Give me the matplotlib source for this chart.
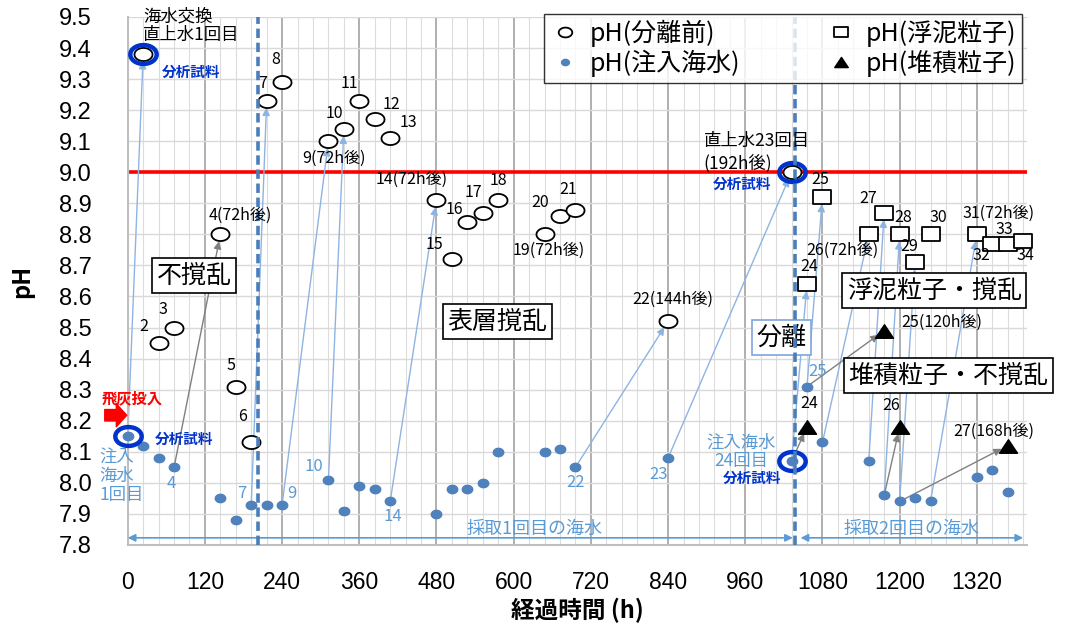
import numpy as np
import matplotlib.pyplot as plt
from matplotlib.path import Path
from matplotlib.transforms import offset_copy

plt.rcParams['font.family'] = ['Noto Sans CJK JP', 'DejaVu Sans']

# 経過時間 (h) と pH
before_t = [24, 48, 72, 144, 168, 192, 216, 240, 312, 336, 360, 384, 408,
            480, 504, 528, 552, 576, 648, 672, 696, 840, 1032]
before_ph = [9.38, 8.45, 8.50, 8.80, 8.31, 8.13, 9.23, 9.29, 9.10, 9.14, 9.23,
             9.17, 9.11, 8.91, 8.72, 8.84, 8.87, 8.91, 8.80, 8.86, 8.88, 8.52, 9.00]

sea_t = [0, 24, 48, 72, 144, 168, 192, 216, 240, 312, 336, 360, 384, 408,
         480, 504, 528, 552, 576, 648, 672, 696, 840, 1032, 1056, 1080, 1152,
         1176, 1200, 1224, 1248, 1320, 1344, 1368]
sea_ph = [8.15, 8.12, 8.08, 8.05, 7.95, 7.88, 7.93, 7.93, 7.93, 8.01, 7.91,
          7.99, 7.98, 7.94, 7.90, 7.98, 7.98, 8.00, 8.10, 8.10, 8.11, 8.05,
          8.08, 8.07, 8.31, 8.13, 8.07, 7.96, 7.94, 7.95, 7.94, 8.02, 8.04, 7.97]

floc_t = [1056, 1080, 1152, 1176, 1200, 1224, 1248, 1320, 1344, 1368, 1392]
floc_ph = [8.64, 8.92, 8.80, 8.87, 8.80, 8.71, 8.80, 8.80, 8.77, 8.77, 8.78]

sed_t = [1056, 1176, 1200, 1368]
sed_ph = [8.18, 8.49, 8.18, 8.12]

divider_t = [203, 1038]
limit_ph = 9.0

before_text = ['', '2', '3', '4(72h後)', '5', '6', '7', '8', '9(72h後)', '10',
               '11', '12', '13', '14(72h後)', '15', '16', '17', '18',
               '19(72h後)', '20', '21', '22(144h後)', '']
floc_text = ['24', '25', '26(72h後)', '27', '28', '29', '30', '31(72h後)',
             '32', '33', '34']
sed_text = ['24', '25(120h後)', '26', '27(168h後)']
sea_text = {3: '4', 6: '7', 8: '9', 9: '10', 13: '14', 21: '22', 22: '23', 24: '25'}

# 矢印: 注入海水の番号 -> 各系列の番号
blue_to_before = [(0, 0), (6, 6), (8, 8), (9, 9), (13, 13), (21, 21), (22, 22)]
blue_to_floc = [(23, 0), (24, 1), (25, 2), (26, 3), (27, 4), (28, 5), (30, 7)]
gray_to_before = [(3, 3)]
gray_to_sed = [(23, 0), (24, 1), (27, 2), (28, 3)]

# ラベル位置 (pixel offset)
before_off = [(0, 0), (-15, 17), (-11, 18), (20, 19), (-5, 21), (-9, 26),
              (-4, 17), (-6, 23), (6, -17), (-9, 15), (-10, 17), (17, 15),
              (18, 16), (-25, 21), (-17, 15), (-13, 12), (-9, 20), (0, 20),
              (4, -16), (-20, 13), (-7, 20), (5, 22), (0, 0)]
floc_off = [(2, 18), (-2, 18), (-26, -16), (-16, 14), (4, 17), (-6, 16),
            (8, 17), (22, 21), (-11, -12), (-3, 14), (2, -15)]
sed_off = [(2, 23), (58, 8), (-8, 21), (-14, 14)]
sea_off = {3: (-3, -16), 6: (-9, 11), 8: (10, 11), 9: (-15, 13), 13: (3, -15),
           21: (0, -15), 22: (-10, -16), 24: (11, 15)}


def ellipse(aspect):
    th = np.linspace(0, 2 * np.pi, 72)
    return Path(np.column_stack([aspect * np.cos(th), np.sin(th)]), closed=True)


circle_m = ellipse(1.38)
rect_m = Path([(-1.38, -1), (1.38, -1), (1.38, 1), (-1.38, 1), (-1.38, -1)], closed=True)
tri_m = Path([(-1, -0.75), (1, -0.75), (0, 0.75), (-1, -0.75)], closed=True)
dot_m = ellipse(1.25)
ring_m = ellipse(1.4)

BLUE = '#4F81BD'
LBLUE = '#5B9BD5'
ARROW_B = '#8EB4E3'
DARK = '#0033CC'

fig = plt.figure(figsize=(10.69, 6.28), dpi=100)
ax = fig.add_axes([0.1195, 0.1322, 0.8412, 0.8408])

ax.set_xlim(0, 1398)
ax.set_ylim(7.8, 9.5)

ax.set_xticks(np.arange(0, 1321, 120))
ax.set_xticks(np.arange(0, 1398, 24), minor=True)
yt = np.round(np.arange(7.8, 9.51, 0.1), 1)
ax.set_yticks(yt)
ax.set_yticklabels([f'{v:.1f}' for v in yt])
ax.grid(which='major', axis='x', color='#9A9A9A', lw=1.1, zorder=0)
ax.grid(which='minor', axis='x', color='#DCDCDC', lw=0.8, zorder=0)
ax.grid(which='major', axis='y', color='#D9D9D9', lw=1.0, zorder=0)
ax.set_axisbelow(True)
ax.tick_params(which='both', length=0)
ax.tick_params(axis='y', pad=26, labelsize=17)
ax.tick_params(axis='x', pad=19, labelsize=16.5)
for lbl in ax.get_xticklabels() + ax.get_yticklabels():
    lbl.set_fontfamily('Liberation Sans')
for s in ['top', 'right']:
    ax.spines[s].set_visible(False)
for s in ['left', 'bottom']:
    ax.spines[s].set_color('#BFBFBF')
    ax.spines[s].set_linewidth(1.5)

ax.set_xlabel('経過時間 (h)', fontsize=17, fontweight='bold')
ax.set_ylabel('pH', fontsize=17, fontweight='bold')
ax.xaxis.set_label_coords(0.5, -0.10)
ax.yaxis.set_label_coords(-0.104, 0.5)

ax.axhline(limit_ph, color='red', lw=2.6, zorder=1)
for d in divider_t:
    ax.axvline(d, color='#4A7EBB', lw=2.6, ls=(0, (2.6, 1.3)), zorder=6)


def arrow(x0, y0, x1, y1, color):
    ax.annotate('', xy=(x1, y1), xytext=(x0, y0),
                arrowprops=dict(arrowstyle='-|>', color=color, lw=1.0,
                                shrinkA=3, shrinkB=5, mutation_scale=11),
                zorder=2)


for a, b in blue_to_before:
    arrow(sea_t[a], sea_ph[a], before_t[b], before_ph[b], ARROW_B)
for a, b in blue_to_floc:
    arrow(sea_t[a], sea_ph[a], floc_t[b], floc_ph[b], ARROW_B)
for a, b in gray_to_before:
    arrow(sea_t[a], sea_ph[a], before_t[b], before_ph[b], '#808080')
for a, b in gray_to_sed:
    arrow(sea_t[a], sea_ph[a], sed_t[b], sed_ph[b], '#808080')

ax.plot(before_t, before_ph, ls='none', marker=circle_m, ms=13, mfc='white',
        mec='black', mew=1.3, label='pH(分離前)', zorder=4, clip_on=False)
ax.plot(sea_t, sea_ph, ls='none', marker=dot_m, ms=7.5, mfc=BLUE, mec=BLUE,
        label='pH(注入海水)', zorder=4, clip_on=False)
ax.plot(floc_t, floc_ph, ls='none', marker=rect_m, ms=13, mfc='white',
        mec='black', mew=1.3, label='pH(浮泥粒子)', zorder=4, clip_on=False)
ax.plot(sed_t, sed_ph, ls='none', marker=tri_m, ms=13, mfc='black',
        mec='black', label='pH(堆積粒子)', zorder=4, clip_on=False)

# 分析試料の丸印
ring_pts = [(before_t[0], before_ph[0]), (sea_t[0], sea_ph[0]),
            (before_t[22], before_ph[22]), (sea_t[23], sea_ph[23])]
for x, y in ring_pts:
    ax.plot(x, y, ls='none', marker=ring_m, ms=19, mfc='none', mec=DARK,
            mew=3.2, zorder=5, clip_on=False)


def label(x, y, text, off, color='black', size=11.5, **kw):
    ax.annotate(text, xy=(x, y), xytext=off, textcoords='offset pixels',
                ha=kw.pop('ha', 'center'), va=kw.pop('va', 'center'),
                color=color, fontsize=size, zorder=7, **kw)


for i, t in enumerate(before_text):
    if t:
        label(before_t[i], before_ph[i], t, before_off[i])
for i, t in enumerate(floc_text):
    label(floc_t[i], floc_ph[i], t, floc_off[i])
for i, t in enumerate(sed_text):
    label(sed_t[i], sed_ph[i], t, sed_off[i])
for i, t in sea_text.items():
    label(sea_t[i], sea_ph[i], t, sea_off[i], color=LBLUE, size=12)

label(before_t[0], before_ph[0], '海水交換\n直上水1回目', (0, 10), size=12.5,
      ha='left', va='bottom', linespacing=1.05)
label(before_t[22], before_ph[22], '直上水23回目\n(192h後)', (-88, 20), size=12.5,
      ha='left', linespacing=1.25)
label(sea_t[0], sea_ph[0], '注入\n海水\n1回目', (-28, -40), color=LBLUE,
      size=12.5, ha='left', linespacing=1.05)
label(sea_t[23], sea_ph[23], '注入海水\n24回目', (-50, 9), color=LBLUE,
      size=12.5, linespacing=1.0)

for (x, y), off in zip(ring_pts, [(48, -18), (56, -3), (-49, -12), (-39, -17)]):
    label(x, y, '分析試料', off, color=DARK, size=10.5, fontweight='bold')

# 飛灰投入
label(sea_t[0], sea_ph[0], '飛灰投入', (4, 38), color='red', size=11,
      fontweight='bold')
tr = offset_copy(ax.transData, fig=fig, x=-1, y=21, units='dots')
ax.annotate('', xy=(sea_t[0], sea_ph[0]), xycoords=tr, xytext=(-22, 0),
            textcoords='offset pixels',
            arrowprops=dict(arrowstyle='simple,head_length=0.5,head_width=1.1,tail_width=0.55',
                            color='red', mutation_scale=15, shrinkA=0, shrinkB=0),
            zorder=7, annotation_clip=False)

# 枠付きラベル
box = dict(boxstyle='square,pad=0.18', fc='white', ec='black', lw=1.2)
ax.text(103, 8.668, '不撹乱', fontsize=18, ha='center', va='center', bbox=box, zorder=5)
ax.text(575, 8.52, '表層撹乱', fontsize=18, ha='center', va='center', bbox=box, zorder=5)
ax.text(1254, 8.619, '浮泥粒子・撹乱', fontsize=18, ha='center', va='center', bbox=box, zorder=5)
ax.text(1276, 8.346, '堆積粒子・不撹乱', fontsize=18, ha='center', va='center', bbox=box, zorder=5)
ax.text(1016, 8.467, '分離', fontsize=18, ha='center', va='center', zorder=5,
        bbox=dict(boxstyle='square,pad=0.18', fc='white', ec='#7EA6DA', lw=1.2))

# 採取期間
span_y = 7.823
ax.annotate('', xy=(0, span_y), xytext=(divider_t[1] - 4, span_y),
            arrowprops=dict(arrowstyle='<|-|>', color=LBLUE, lw=1.2,
                            mutation_scale=11, shrinkA=0, shrinkB=0), zorder=3)
ax.annotate('', xy=(divider_t[1] + 8, span_y), xytext=(1392, span_y),
            arrowprops=dict(arrowstyle='<|-|>', color=LBLUE, lw=1.2,
                            mutation_scale=11, shrinkA=0, shrinkB=0), zorder=3)
ax.text(633, 7.85, '採取1回目の海水', color=LBLUE, fontsize=13, ha='center', va='center')
ax.text(1218, 7.85, '採取2回目の海水', color=LBLUE, fontsize=13, ha='center', va='center')

leg = ax.legend(loc='upper right', bbox_to_anchor=(0.995, 1.006), ncol=2,
                fontsize=18, frameon=True, fancybox=False, borderaxespad=0,
                handlelength=1.2, handletextpad=0.4, columnspacing=3.4,
                labelspacing=0.1, borderpad=0.25, markerscale=0.75)
leg.get_frame().set_edgecolor('black')
leg.get_frame().set_linewidth(1.0)
leg.set_zorder(8)

fig.savefig('out.png', dpi=100)
